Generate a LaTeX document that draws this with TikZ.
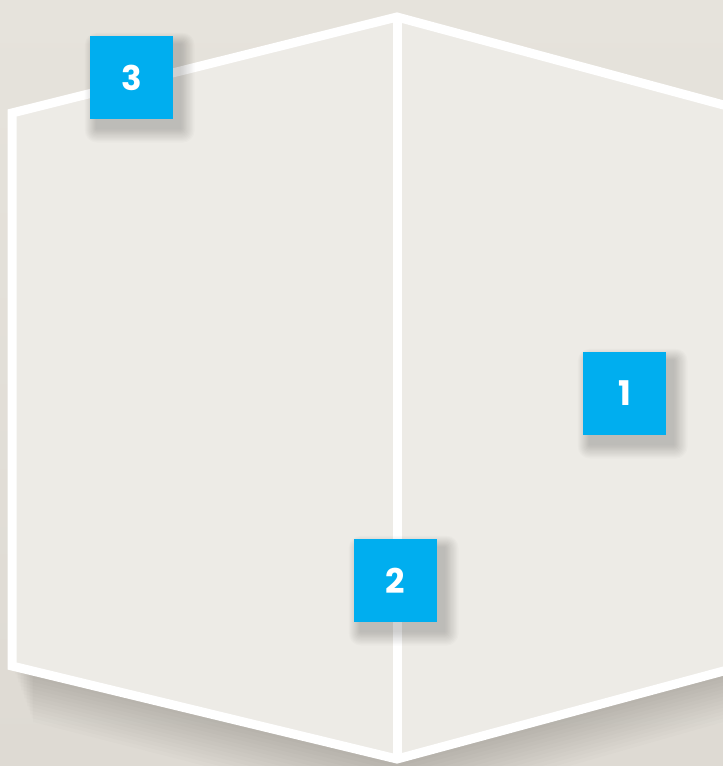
\documentclass[tikz,border=0pt]{standalone}
\usepackage{fontspec}
\newfontfamily\tilefont{Poppins}
\usepackage{xcolor}
\usepackage{tikz}

\definecolor{bgtop}{HTML}{E6E3DC}
\definecolor{bgbot}{HTML}{DEDAD3}
\definecolor{panel}{HTML}{EDEBE6}
\definecolor{tile}{HTML}{00AEEF}

\pgfdeclarelayer{back}
\pgfdeclarelayer{shade}
\pgfsetlayers{back,shade,main}

\begin{document}
\begin{tikzpicture}[
  x=1pt, y=-1pt,
  frame/.style={
      draw=white,
      line width=9pt,
      line join=miter
  },
  numbox/.style={
      fill=tile,
      text=white,
      minimum width=83pt,
      minimum height=83pt,
      inner sep=0pt,
      font=\tilefont\bfseries\fontsize{34}{34}\selectfont
  },
  softshade/.style={fill=black, opacity=#1}
]

\useasboundingbox (0,0) rectangle (723,766);
\clip (0,0) rectangle (723,766);

% corners of the panel outline
\coordinate (apex)   at (397,17);
\coordinate (ltop)   at (12,113);
\coordinate (lbot)   at (12,666);
\coordinate (base)   at (397,759);
\coordinate (rbot)   at (783,655);
\coordinate (rtop)   at (783,121);

\begin{pgfonlayer}{back}
  \shade[top color=bgtop, bottom color=bgbot] (0,0) rectangle (723,766);
  \foreach \k in {1,...,14}
    \fill[softshade=0.012]
      ([yshift=-\k*4pt]apex) -- ([xshift=\k*1.5pt, yshift=-\k*4pt]ltop)
      -- ([xshift=\k*1.5pt, yshift=-\k*4pt]lbot) -- ([yshift=-\k*4pt]base)
      -- ([xshift=-\k*1.5pt, yshift=-\k*4pt]rbot)
      -- ([xshift=-\k*1.5pt, yshift=-\k*4pt]rtop) -- cycle;
  \fill[panel] (apex) -- (ltop) -- (lbot) -- (base) -- (rbot) -- (rtop) -- cycle;
  \draw[frame] (apex) -- (ltop) -- (lbot) -- (base) -- (rbot) -- (rtop) -- cycle;
  \draw[frame] (apex) -- (base);
\end{pgfonlayer}

\node[numbox] (box3) at (131.5,77.5)  {3};
\node[numbox] (box1) at (624.5,393.5) {1};
\node[numbox] (box2) at (395.5,580.5) {2};

% soft drop shadows of the tiles
\begin{pgfonlayer}{shade}
  \foreach \b in {box1,box2,box3}
    \foreach \k in {1,...,12}
      \fill[softshade=0.014, rounded corners=\k pt]
        ([xshift=7pt-\k*1pt, yshift=-9pt+\k*1pt]\b.north west)
        rectangle ([xshift=7pt+\k*1.2pt, yshift=-9pt-\k*1.2pt]\b.south east);
\end{pgfonlayer}

\end{tikzpicture}
\end{document}
